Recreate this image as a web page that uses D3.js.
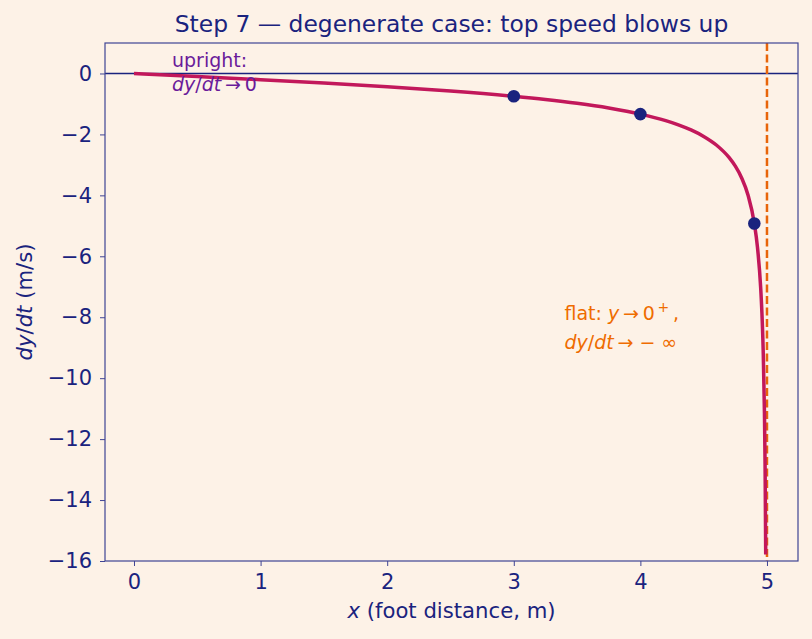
<!DOCTYPE html>
<html>
<head>
<meta charset="utf-8">
<script src="https://cdn.jsdelivr.net/npm/d3@7"></script>
<style>
  html, body { margin: 0; padding: 0; background: #fdf2e7; }
  svg, svg text { font-family: "DejaVu Sans", sans-serif; }
  .axis text { fill: #1a237e; font-size: 21px; font-family: "DejaVu Sans", sans-serif; }
  .axis path, .axis line { stroke: #3f4494; }
</style>
</head>
<body>
<div id="chart"></div>
<script>
// curve samples: x (m) and dy/dt (m/s)
const curveX = [0, 0.5, 1, 1.5, 2, 2.5, 3, 3.25, 3.5, 3.75, 4, 4.2, 4.3, 4.4, 4.5, 4.6, 4.7,
  4.75, 4.8, 4.85, 4.9, 4.925, 4.95, 4.96, 4.97, 4.98, 4.985, 4.99];
const curveY = [0, -0.101, -0.204, -0.315, -0.436, -0.577, -0.75, -0.855, -0.980, -1.134, -1.333,
  -1.548, -1.685, -1.853, -2.065, -2.347, -2.755, -3.043, -3.429, -3.990, -4.925, -5.708, -7.018,
  -7.858, -9.088, -11.146, -12.88, -15.787];

// highlighted points
const dotX = [3, 4, 4.9];
const dotY = [-0.75, -1.333, -4.925];

const xTicks = [0, 1, 2, 3, 4, 5];
const yTicks = [0, -2, -4, -6, -8, -10, -12, -14, -16];

const W = 812, H = 639;
const margin = { top: 43, right: 14, bottom: 78, left: 105 };
const width = W - margin.left - margin.right;
const height = H - margin.top - margin.bottom;

const svg = d3.select("#chart").append("svg")
  .attr("width", W)
  .attr("height", H);

const chart = svg.append("g")
  .attr("transform", `translate(${margin.left},${margin.top})`);

const x = d3.scaleLinear().domain([-0.229, 5.245]).range([0, width]);
const y = d3.scaleLinear().domain([-16, 1]).range([height, 0]);

chart.append("defs").append("clipPath").attr("id", "clip")
  .append("rect").attr("width", width).attr("height", height);

const plot = chart.append("g").attr("clip-path", "url(#clip)");

// zero line
plot.append("line")
  .attr("x1", 0).attr("x2", width)
  .attr("y1", y(0)).attr("y2", y(0))
  .attr("stroke", "#1a237e")
  .attr("stroke-width", 1.5);

// asymptote at x = L
plot.append("line")
  .attr("x1", x(5)).attr("x2", x(5))
  .attr("y1", 0).attr("y2", height)
  .attr("stroke", "#e8650a")
  .attr("stroke-width", 2.5)
  .attr("stroke-dasharray", "8,3.5");

const line = d3.line()
  .x((d, i) => x(curveX[i]))
  .y(d => y(d))
  .curve(d3.curveMonotoneX);

plot.append("path")
  .datum(curveY)
  .attr("d", line)
  .attr("fill", "none")
  .attr("stroke", "#c2185b")
  .attr("stroke-width", 3.5);

plot.selectAll("circle")
  .data(dotX)
  .join("circle")
  .attr("cx", d => x(d))
  .attr("cy", (d, i) => y(dotY[i]))
  .attr("r", 6.3)
  .attr("fill", "#1a237e");

// axes
chart.append("g")
  .attr("class", "axis")
  .attr("transform", `translate(0,${height})`)
  .call(d3.axisBottom(x).tickValues(xTicks).tickSize(5).tickPadding(8).tickFormat(d3.format("d")))
  .call(g => g.select(".domain").remove());

chart.append("g")
  .attr("class", "axis")
  .call(d3.axisLeft(y).tickValues(yTicks).tickSize(5).tickPadding(8)
    .tickFormat(d => d < 0 ? "\u2212" + Math.abs(d) : d))
  .call(g => g.select(".domain").remove());

chart.append("rect")
  .attr("width", width).attr("height", height)
  .attr("fill", "none")
  .attr("stroke", "#3f4494")
  .attr("stroke-width", 1.2);

// title and labels
svg.append("text")
  .attr("x", margin.left + width / 2)
  .attr("y", 32)
  .attr("text-anchor", "middle")
  .attr("fill", "#1a237e")
  .attr("font-size", 23.4)
  .text("Step 7 \u2014 degenerate case: top speed blows up");

const xl = svg.append("text")
  .attr("x", margin.left + width / 2)
  .attr("y", 618)
  .attr("text-anchor", "middle")
  .attr("fill", "#1a237e")
  .attr("font-size", 21.2);
xl.append("tspan").attr("font-style", "italic").text("x");
xl.append("tspan").text(" (foot distance, m)");

const yl = svg.append("text")
  .attr("transform", `translate(32,${margin.top + height / 2}) rotate(-90)`)
  .attr("text-anchor", "middle")
  .attr("fill", "#1a237e")
  .attr("font-size", 21.2);
yl.append("tspan").attr("font-style", "italic").text("dy");
yl.append("tspan").text("/");
yl.append("tspan").attr("font-style", "italic").text("dt");
yl.append("tspan").text(" (m/s)");

// annotations
const up = chart.append("g").attr("fill", "#6a1b9a").attr("font-size", 19);
up.append("text").attr("x", x(0.3)).attr("y", y(0.2)).text("upright:");
const up2 = up.append("text").attr("x", x(0.3)).attr("y", y(-0.59));
up2.append("tspan").attr("font-style", "italic").text("dy");
up2.append("tspan").text("/");
up2.append("tspan").attr("font-style", "italic").text("dt");
up2.append("tspan").text("\u2009\u2192\u20090");

const fl = chart.append("g").attr("fill", "#ef6c00").attr("font-size", 19);
const fl1 = fl.append("text").attr("x", x(3.4)).attr("y", y(-8.1));
fl1.append("tspan").text("flat: ");
fl1.append("tspan").attr("font-style", "italic").text("y");
fl1.append("tspan").text("\u2009\u2192\u20090");
fl1.append("tspan").attr("font-size", 14).attr("dy", -8).text("\u2009+");
fl1.append("tspan").attr("dy", 8).text("\u2009,");
const fl2 = fl.append("text").attr("x", x(3.4)).attr("y", y(-9.05));
fl2.append("tspan").attr("font-style", "italic").text("dy");
fl2.append("tspan").text("/");
fl2.append("tspan").attr("font-style", "italic").text("dt");
fl2.append("tspan").text("\u2009\u2192 \u2212 \u221e");
</script>
</body>
</html>
